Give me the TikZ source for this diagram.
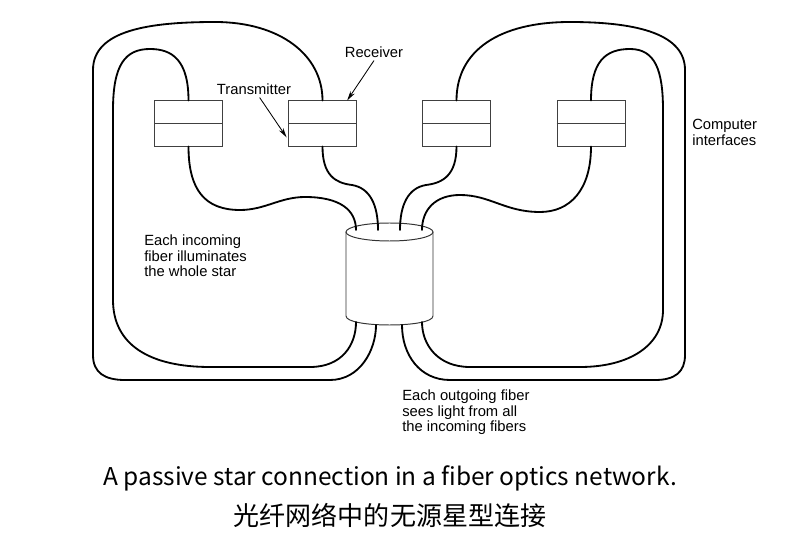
\documentclass[tikz,border=0pt]{standalone}
\usepackage{fontspec}
\setmainfont{Liberation Sans}
\newfontfamily\cjk{Noto Sans CJK SC}
\usetikzlibrary{arrows.meta}
\begin{document}
\begin{tikzpicture}
      [x=0.025cm, y=-0.025cm,
      fiber/.style={line width=1.3pt, line cap=round},
      iface/.style={draw=black!75, line width=0.7pt, minimum width=1.7cm, minimum height=1.125cm, inner sep=0pt},
      note/.style={align=left, font=\fontsize{10.5}{11}\selectfont, inner sep=0pt, anchor=north west},
      pointer/.style={line width=0.6pt, -{Stealth[length=7pt, width=3.5pt]}},
      caption/.style={font=\cjk\fontsize{#1}{#1}\selectfont}]
      \useasboundingbox (0,0) rectangle (802,557);
      \node[iface] (box1) at (188.5,123.5) {};
      \node[iface] (box2) at (322.5,123.5) {};
      \node[iface] (box3) at (456.5,123.5) {};
      \node[iface] (box4) at (591,123.5) {};
      \foreach \b in {box1,box2,box3,box4}
        \draw[draw=black!75, line width=0.7pt] (\b.west) -- (\b.east);
      \draw[draw=black!80, line width=0.7pt] (389.5,232) ellipse [x radius=43.5, y radius=9];
      \draw[draw=black!80, line width=0.7pt] (346,232) -- (346,316)
        .. controls (346,328) and (433,328) .. (433,316) -- (433,232);
      \coordinate (in1) at (356,230);
      \coordinate (in2) at (378,230);
      \coordinate (in3) at (400,230);
      \coordinate (in4) at (422,230);
      \coordinate (out1) at (356,322);
      \coordinate (out2) at (376,325);
      \coordinate (out3) at (402,325);
      \coordinate (out4) at (422,322);
      \draw[fiber] (box1.north) .. controls (188.5,60) and (172,49) .. (150,49)
        .. controls (125,49) and (113,65) .. (113,110) -- (113,300)
        .. controls (113,345) and (150,367) .. (210,367) -- (310,367)
        .. controls (342,367) and (356,345) .. (out1);
      \draw[fiber] (box2.north) .. controls (322.5,55) and (280,22) .. (215,22)
        .. controls (150,22) and (93,30) .. (93,70) -- (93,355)
        .. controls (93,373) and (105,380) .. (125,380) -- (330,380)
        .. controls (360,380) and (376,350) .. (out2);
      \draw[fiber] (box3.north) .. controls (456.5,50) and (500,22) .. (570,22)
        .. controls (640,22) and (685,35) .. (685,70) -- (685,355)
        .. controls (685,372) and (675,380) .. (655,380) -- (450,380)
        .. controls (420,380) and (402,355) .. (out3);
      \draw[fiber] (box4.north) .. controls (591,62) and (605,49) .. (630,49)
        .. controls (655,49) and (663,70) .. (663,110) -- (663,310)
        .. controls (663,345) and (630,367) .. (580,367) -- (470,367)
        .. controls (438,367) and (422,345) .. (out4);
      \draw[fiber] (box1.south) .. controls (188.5,190) and (205,210) .. (240,210)
        .. controls (265,210) and (280,197) .. (305,197)
        .. controls (340,197) and (356,210) .. (in1);
      \draw[fiber] (box2.south) .. controls (322.5,175) and (335,183) .. (352,185)
        .. controls (370,188) and (378,205) .. (in2);
      \draw[fiber] (box3.south) .. controls (456.5,175) and (443,183) .. (426,185)
        .. controls (408,188) and (400,205) .. (in3);
      \draw[fiber] (box4.south) .. controls (591,190) and (570,212) .. (540,212)
        .. controls (505,212) and (490,195) .. (460,195)
        .. controls (435,195) and (422,210) .. (in4);
      \node[font=\fontsize{10.5}{11}\selectfont, inner sep=2pt] (rx) at (374,52) {Receiver};
      \node[font=\fontsize{10.5}{11}\selectfont, inner sep=2pt] (tx) at (254,89) {Transmitter};
      \draw[pointer] (rx.south) -- ([xshift=-7pt]box2.north east);
      \draw[pointer] ([xshift=4pt]tx.south) -- ([shift={(-1pt,6.5pt)}]box2.south west);
      \node[note] (ifaces) at (692,119) {Computer\\interfaces};
      \node[note] (incoming) at (144,235) {Each incoming\\fiber illuminates\\the whole star};
      \node[note] (outgoing) at (402,390) {Each outgoing fiber\\sees light from all\\the incoming fibers};
      \node[caption=17.4] (cap1) at (390,478) {A passive star connection in a fiber optics network.};
      \node[caption=18.5] (cap2) at (390,515) {光纤网络中的无源星型连接};
\end{tikzpicture}
\end{document}
